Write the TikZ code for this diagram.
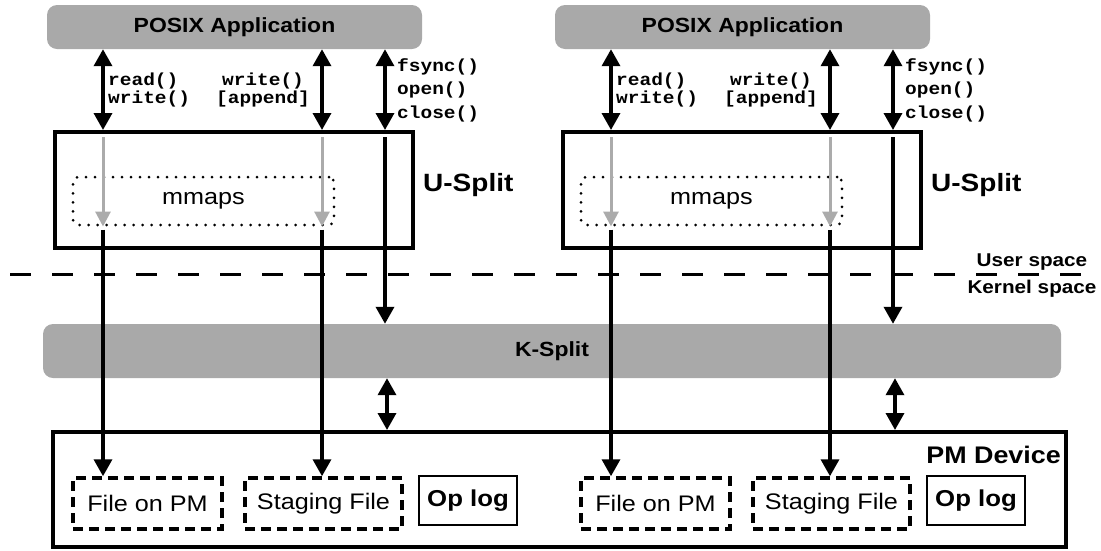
\documentclass[tikz,border=0pt]{standalone}
\usepackage{fontspec}
\setmainfont{Liberation Sans}[FakeStretch=1.12]
\setmonofont{Liberation Mono}[FakeStretch=1.12]
\usetikzlibrary{arrows.meta}
\definecolor{appgray}{HTML}{A9A9A9}
\definecolor{arrgray}{HTML}{ABABAB}
\tikzset{
  app/.style={fill=appgray, rounded corners=10pt, minimum width=375pt, minimum height=44pt,
    inner sep=0pt, font=\bfseries\fontsize{20.5}{24}\selectfont},
  usplit/.style={draw, line width=4pt, minimum width=358pt, minimum height=116pt, inner sep=0pt},
  mmapbox/.style={draw, line width=3pt, dash pattern=on 0pt off 9pt, line cap=round,
    rounded corners=5pt, minimum width=261pt, minimum height=48pt, inner sep=0pt,
    font=\fontsize{22.5}{26}\selectfont},
  filebox/.style={draw, line width=3.5pt, dash pattern=on 10pt off 6pt, minimum height=51pt,
    inner sep=0pt, font=\fontsize{22.5}{26}\selectfont},
  logbox/.style={draw, line width=2pt, minimum width=98pt, minimum height=49pt, inner sep=0pt,
    font=\bfseries\fontsize{23}{26}\selectfont},
  call/.style={inner sep=0pt, font=\ttfamily\bfseries\fontsize{17.4}{18}\selectfont},
  callwide/.style={inner sep=0pt, font=\ttfamily\bfseries\fontsize{17.4}{23.5}\selectfont},
  layer/.style={inner sep=0pt, font=\bfseries\fontsize{25}{28}\selectfont},
  spacelbl/.style={inner sep=0pt, font=\bfseries\fontsize{18.5}{20}\selectfont},
  arr/.style={line width=3.5pt, -{Triangle[width=18pt,length=17pt]}},
  biarr/.style={line width=3.5pt, {Triangle[width=18pt,length=17pt]}-{Triangle[width=18pt,length=17pt]}},
  garr/.style={line width=3pt, draw=arrgray, -{Triangle[width=15pt,length=15pt,fill=arrgray]}},
}
\begin{document}
\begin{tikzpicture}[x=1pt, y=-1pt]
\useasboundingbox (0,0) rectangle (1101,550);

% user / kernel boundary
\coordinate (bndL) at (10,274);
\coordinate (bndR) at (1083,274);
\draw[line width=3pt, dash pattern=on 21pt off 21pt] (bndL) -- (bndR);
\node[spacelbl] (usr) at (1032,262) {User space};
\node[spacelbl] (krn) at (1032,289) {Kernel space};

% shared kernel part and device
\node[fill=appgray, rounded corners=10pt, minimum width=1018pt, minimum height=54pt, inner sep=0pt,
  font=\bfseries\fontsize{20.5}{24}\selectfont] (ks) at (552,351) {K-Split};
\node[draw, line width=4pt, minimum width=1013pt, minimum height=115pt, inner sep=0pt] (pm) at (559.5,489.5) {};
\node[inner sep=0pt, anchor=base east, font=\bfseries\fontsize{24}{26}\selectfont] (pml) at (1061,463) {PM Device};

% two application stacks
\foreach \o/\s in {0/L,508/R}{
  \node[app] (app\s) at ({234.5+\o},27) {POSIX Application};
  \node[usplit] (us\s) at ({234+\o},190) {};
  \node[mmapbox] (mm\s) at ({203.5+\o},201) {mmaps};
  \node[layer, anchor=west] (ul\s) at ({423+\o},185) {U-Split};

  \node[filebox, minimum width=149pt] (file\s) at ({147.5+\o},503.5) {File on PM};
  \node[filebox, minimum width=157pt] (stg\s) at ({323.5+\o},503.5) {Staging File};
  \node[logbox] (log\s) at ({468+\o},500.5) {Op log};

  \coordinate (c1\s) at ({103+\o},0);
  \coordinate (c2\s) at ({322+\o},0);
  \coordinate (c3\s) at ({385+\o},0);
  \coordinate (c4\s) at ({387+\o},0);

  % calls from the application
  \draw[biarr] (app\s.south -| c1\s) -- (us\s.north -| c1\s);
  \draw[biarr] (app\s.south -| c2\s) -- (us\s.north -| c2\s);
  \draw[biarr] (app\s.south -| c3\s) -- (us\s.north -| c3\s);
  \node[call, anchor=west, align=left] (rw\s) at ({108+\o},90) {read()\\write()};
  \node[call, align=center] (wa\s) at ({263+\o},90) {write()\\{[append]}};
  \node[callwide, anchor=west, align=left] (fo\s) at ({397+\o},90) {fsync()\\open()\\close()};

  % through the mmaps
  \draw[garr] ([yshift=-7pt]us\s.north -| c1\s) -- (mm\s.south -| c1\s);
  \draw[garr] ([yshift=-7pt]us\s.north -| c2\s) -- (mm\s.south -| c2\s);
  \draw[arr] ([yshift=-3pt]mm\s.south -| c1\s) -- (file\s.north -| c1\s);
  \draw[arr] ([yshift=-3pt]mm\s.south -| c2\s) -- (stg\s.north -| c2\s);

  % metadata path through the kernel
  \draw[arr] ([yshift=-7pt]us\s.north -| c3\s) -- (ks.north -| c3\s);
  \draw[biarr] (ks.south -| c4\s) -- (pm.north -| c4\s);
}
\end{tikzpicture}
\end{document}
